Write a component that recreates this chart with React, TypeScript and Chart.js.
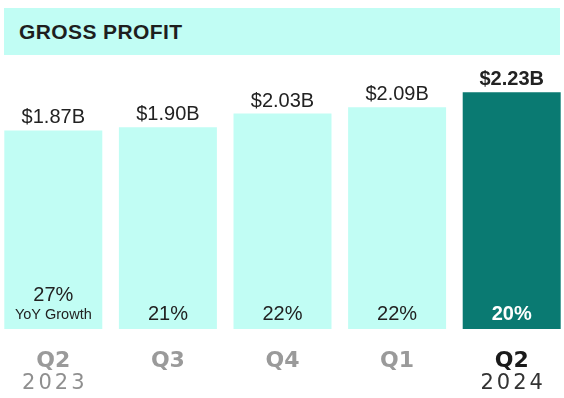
import React, { useEffect, useRef } from "react";
import { Chart, registerables } from "chart.js";

Chart.register(...registerables);

const quarters = ["Q2", "Q3", "Q4", "Q1", "Q2"];
const years = ["2023", "", "", "", "2024"];
const grossProfit = [1.87, 1.9, 2.03, 2.09, 2.23];
const yoyGrowth = [27, 21, 22, 22, 20];
const highlightIndex = 4;

const LIGHT = "#C1FDF4";
const DARK = "#0A7A72";

export default function App() {
  const ref = useRef<HTMLCanvasElement | null>(null);

  useEffect(() => {
    if (!ref.current) return;
    const labelPlugin = {
      id: "labels",
      afterDatasetsDraw(chart: any) {
        const ctx = chart.ctx;
        const meta = chart.getDatasetMeta(0);
        ctx.save();
        ctx.textAlign = "center";
        ctx.textBaseline = "alphabetic";
        meta.data.forEach((bar: any, i: number) => {
          const hi = i === highlightIndex;
          ctx.fillStyle = "#222222";
          ctx.font = (hi ? "bold " : "") + "20px 'Liberation Sans', Arial, sans-serif";
          ctx.fillText("$" + grossProfit[i].toFixed(2) + "B", bar.x, bar.y - 7);
          ctx.fillStyle = hi ? "#ffffff" : "#222222";
          ctx.font = (hi ? "bold " : "") + "20px 'Liberation Sans', Arial, sans-serif";
          if (i === 0) {
            ctx.fillText(yoyGrowth[i] + "%", bar.x, bar.base - 28);
            ctx.font = "14.5px 'Liberation Sans', Arial, sans-serif";
            ctx.fillText("YoY Growth", bar.x, bar.base - 10);
          } else {
            ctx.fillText(yoyGrowth[i] + "%", bar.x, bar.base - 9);
          }
        });
        // year line below the quarter ticks
        const xs = chart.scales.x;
        ctx.font = "21px 'DejaVu Sans', sans-serif";
        (ctx as any).letterSpacing = "3px";
        years.forEach((y, i) => {
          if (!y) return;
          ctx.fillStyle = i === highlightIndex ? "#333333" : "#8f8f8f";
          ctx.fillText(y, xs.getPixelForValue(i) + 1.5, 389);
        });
        ctx.restore();
      },
    };

    const chart = new Chart(ref.current, {
      type: "bar",
      data: {
        labels: quarters,
        datasets: [
          {
            data: grossProfit,
            backgroundColor: grossProfit.map((_, i) => (i === highlightIndex ? DARK : LIGHT)),
            borderWidth: 0,
            barPercentage: 0.855,
            categoryPercentage: 1,
          },
        ],
      },
      options: {
        animation: false,
        responsive: true,
        maintainAspectRatio: false,
        layout: { padding: { top: 53, left: 0, right: 0, bottom: 0 } },
        plugins: { legend: { display: false }, tooltip: { enabled: false }, title: { display: false } },
        scales: {
          x: {
            grid: { display: false },
            border: { display: false },
            ticks: {
              padding: 11,
              font: { family: "'DejaVu Sans', sans-serif", size: 22, weight: "bold" },
              color: (c: any) => (c.index === highlightIndex ? "#1a1a1a" : "#9a9a9a"),
            },
            afterFit: (axis: any) => {
              axis.height = 69;
            },
          },
          y: { display: false, min: 0, max: 2.6 },
        },
      },
      plugins: [labelPlugin],
    });
    return () => chart.destroy();
  }, []);

  return (
    <div style={{ position: "fixed", left: 0, top: 0, width: 564, height: 398, overflow: "hidden", background: "#fff" }}>
      <div
        style={{
          position: "absolute",
          left: 4,
          top: 8,
          width: 556,
          height: 47,
          background: LIGHT,
          fontFamily: "'Liberation Sans', Arial, sans-serif",
          fontWeight: "bold",
          fontSize: 21,
          letterSpacing: 0.4,
          color: "#1e1e1e",
          lineHeight: "47px",
          paddingLeft: 15,
          boxSizing: "border-box",
        }}
      >
        GROSS PROFIT
      </div>
      <div style={{ position: "absolute", left: -4, top: 0, width: 573, height: 398 }}>
        <canvas ref={ref} />
      </div>
    </div>
  );
}
